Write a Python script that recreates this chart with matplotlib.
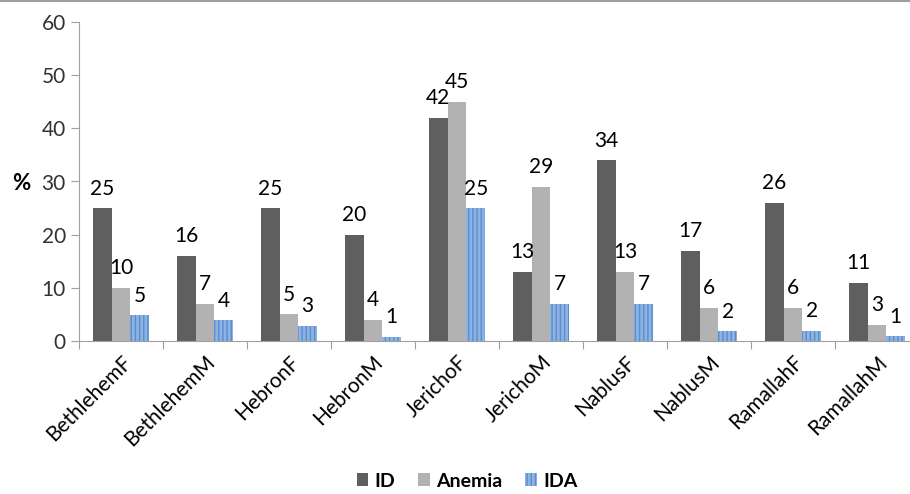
import numpy as np
import matplotlib.pyplot as plt

plt.rcParams['font.family'] = ['Lato', 'DejaVu Sans']

# Data
groups = ['BethlehemF', 'BethlehemM', 'HebronF', 'HebronM', 'JerichoF',
          'JerichoM', 'NablusF', 'NablusM', 'RamallahF', 'RamallahM']
id_vals = [25, 16, 25, 20, 42, 13, 34, 17, 26, 11]
anemia_vals = [10, 7, 5, 4, 45, 29, 13, 6.2, 6.2, 3.1]
ida_vals = [4.8, 3.9, 2.9, 0.8, 25, 7, 7, 1.8, 1.9, 0.9]
id_lbl = [25, 16, 25, 20, 42, 13, 34, 17, 26, 11]
anemia_lbl = [10, 7, 5, 4, 45, 29, 13, 6, 6, 3]
ida_lbl = [5, 4, 3, 1, 25, 7, 7, 2, 2, 1]

fig = plt.figure(figsize=(9.10, 4.94), dpi=100)
ax = fig.add_axes([79/910, 1-341/494, 840/910, 319/494])

x = np.arange(len(groups))
w = 0.222
series = [
    (id_vals, id_lbl, 'ID', dict(color='#5f5f5f')),
    (anemia_vals, anemia_lbl, 'Anemia', dict(color='#b2b2b2')),
    (ida_vals, ida_lbl, 'IDA', dict(facecolor='#8db3e2', edgecolor='#5b8bd0',
                                    hatch='||||', linewidth=0)),
]
for i, (vals, lbls, name, style) in enumerate(series):
    pos = x + (i - 1) * w
    ax.bar(pos, vals, w, label=name, **style)
    for p, v, l in zip(pos, vals, lbls):
        ax.text(p, v + 1.8, str(l), ha='center', va='bottom', fontsize=15, color='black')

ax.set_xlim(-0.5, len(groups) - 0.5)
ax.set_ylim(0, 60)
ax.set_yticks(range(0, 61, 10))
ax.set_xticks(np.arange(len(groups) + 1) - 0.5, minor=False)
ax.set_xticklabels([])
ax.set_xticks(x, minor=True)
ax.set_xticklabels(groups, minor=True, rotation=45, ha='right', rotation_mode='anchor', fontsize=15, color='black')
ax.tick_params(axis='x', which='minor', length=0, pad=8)
ax.tick_params(axis='x', which='major', length=6, color='#a0a0a0', direction='out')
ax.tick_params(axis='y', length=6, color='#a0a0a0', labelsize=15, labelcolor='#333333')

for s in ['top', 'right']:
    ax.spines[s].set_visible(False)
for s in ['left', 'bottom']:
    ax.spines[s].set_color('#a0a0a0')

fig.text(12/910, 1-183/494, '%', ha='left', va='center', fontsize=16, fontweight='bold')

fig.legend(loc='center', bbox_to_anchor=(467/910, 1-481/494), ncol=3, frameon=False,
           prop={'size': 14, 'weight': 'bold'}, handlelength=0.6, handleheight=0.6,
           handletextpad=0.3, columnspacing=1.2)

fig.add_artist(plt.Line2D([0, 1], [0.998, 0.998], color='#a0a0a0', lw=1.5))

plt.savefig('out.png', dpi=100)
